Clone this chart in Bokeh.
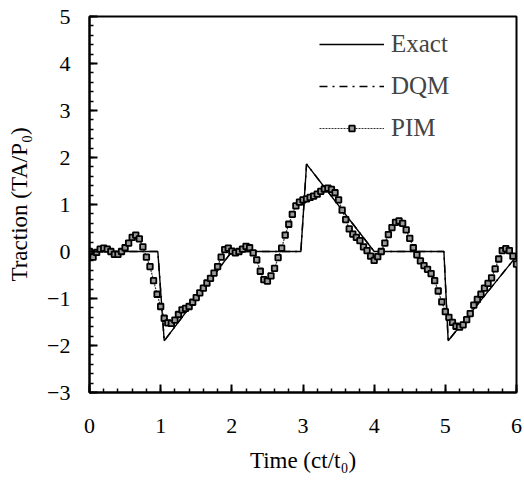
from bokeh.plotting import figure
from bokeh.models import SingleIntervalTicker, Range1d, Legend, LegendItem
from bokeh.embed import file_html
from bokeh.resources import INLINE

exact_x = [0.0, 0.96, 1.05, 2.0, 2.97, 3.05, 4.0, 4.98, 5.04, 6.0]
exact_y = [0.0, 0.0, -1.9, 0.0, 0.0, 1.86, 0.0, 0.0, -1.9, -0.1]

dqm_x = [0.0, 0.96, 1.05, 2.0, 2.97, 3.05, 4.0, 4.98, 5.04, 6.0]
dqm_y = [0.0, 0.0, -1.9, 0.0, 0.0, 1.86, 0.0, 0.0, -1.9, -0.1]

pim_x = [round(i * 0.05, 2) for i in range(121)]
pim_y = [
    0.00, -0.12, -0.02, 0.05, 0.07, 0.05, 0.00, -0.06, -0.06, 0.00,
    0.08, 0.18, 0.30, 0.35, 0.27, 0.10, -0.12, -0.32, -0.62, -0.91,
    -1.17, -1.42, -1.52, -1.53, -1.46, -1.34, -1.24, -1.21, -1.17, -1.08,
    -0.98, -0.88, -0.78, -0.67, -0.57, -0.46, -0.32, -0.12, 0.04, 0.07,
    0.01, -0.03, 0.00, 0.05, 0.11, 0.08, -0.03, -0.18, -0.42, -0.60,
    -0.63, -0.52, -0.36, -0.13, 0.07, 0.35, 0.58, 0.79, 0.97, 1.05,
    1.10, 1.12, 1.15, 1.18, 1.22, 1.28, 1.33, 1.35, 1.32, 1.25,
    1.10, 0.88, 0.68, 0.48, 0.37, 0.30, 0.23, 0.10, 0.02, -0.10,
    -0.19, -0.11, 0.00, 0.18, 0.36, 0.51, 0.62, 0.65, 0.60, 0.46,
    0.28, 0.08, -0.07, -0.20, -0.30, -0.38, -0.47, -0.62, -0.84, -1.07,
    -1.28, -1.40, -1.51, -1.59, -1.61, -1.56, -1.45, -1.32, -1.14, -1.02,
    -0.91, -0.78, -0.68, -0.56, -0.37, -0.16, 0.02, 0.06, 0.02, -0.10,
    -0.27,
]

FONT = "Liberation Serif"

p = figure(width=524, height=483, output_backend="svg", toolbar_location=None,
           x_range=Range1d(0, 6), y_range=Range1d(-3, 5),
           min_border_left=89, min_border_right=8, min_border_top=16, min_border_bottom=91,
           x_axis_label="Time (ct/t\u2080)", y_axis_label="Traction (TA/P\u2080)")
p.xgrid.visible = False
p.ygrid.visible = False
p.background_fill_color = "white"
p.border_fill_color = "white"
p.outline_line_color = "black"
p.outline_line_width = 2

for ax in (p.xaxis[0], p.yaxis[0]):
    ax.ticker = SingleIntervalTicker(interval=1, num_minor_ticks=5)
    ax.axis_line_width = 2
    ax.major_tick_in = 8
    ax.major_tick_out = 0
    ax.minor_tick_in = 4
    ax.minor_tick_out = 0
    ax.major_tick_line_width = 2
    ax.minor_tick_line_width = 1.5
    ax.major_label_text_font = FONT
    ax.major_label_text_font_size = "22px"
    ax.major_label_text_color = "black"
    ax.axis_label_text_font = FONT
    ax.axis_label_text_font_size = "23px"
    ax.axis_label_text_font_style = "normal"
    ax.axis_label_text_color = "black"

p.xaxis.major_label_standoff = 26
p.xaxis.axis_label_standoff = 12
p.yaxis.major_label_standoff = 19
p.yaxis.axis_label_standoff = 12

r_dqm = p.line(dqm_x, dqm_y, line_color="black", line_width=1.5, line_dash="8 5 2 5")
r_exact = p.line(exact_x, exact_y, line_color="black", line_width=1.4)
r_pim_line = p.line(pim_x, pim_y, line_color="#333333", line_width=1.2, line_dash="2 1")
r_pim_pts = p.scatter(pim_x, pim_y, marker="square", size=5.5, fill_color="#9a9a9a",
                      line_color="black", line_width=1.8)

legend = Legend(items=[
    LegendItem(label="Exact", renderers=[r_exact]),
    LegendItem(label="DQM", renderers=[r_dqm]),
    LegendItem(label="PIM", renderers=[r_pim_line, r_pim_pts]),
], location=(230, 246))
legend.background_fill_alpha = 0
legend.border_line_color = None
legend.label_text_font = FONT
legend.label_text_font_size = "25px"
legend.glyph_width = 65
legend.glyph_height = 14
legend.label_height = 36
legend.spacing = 6
legend.padding = 2
legend.label_standoff = 7
p.add_layout(legend)

open("out.html", "w").write(file_html(p, INLINE))
